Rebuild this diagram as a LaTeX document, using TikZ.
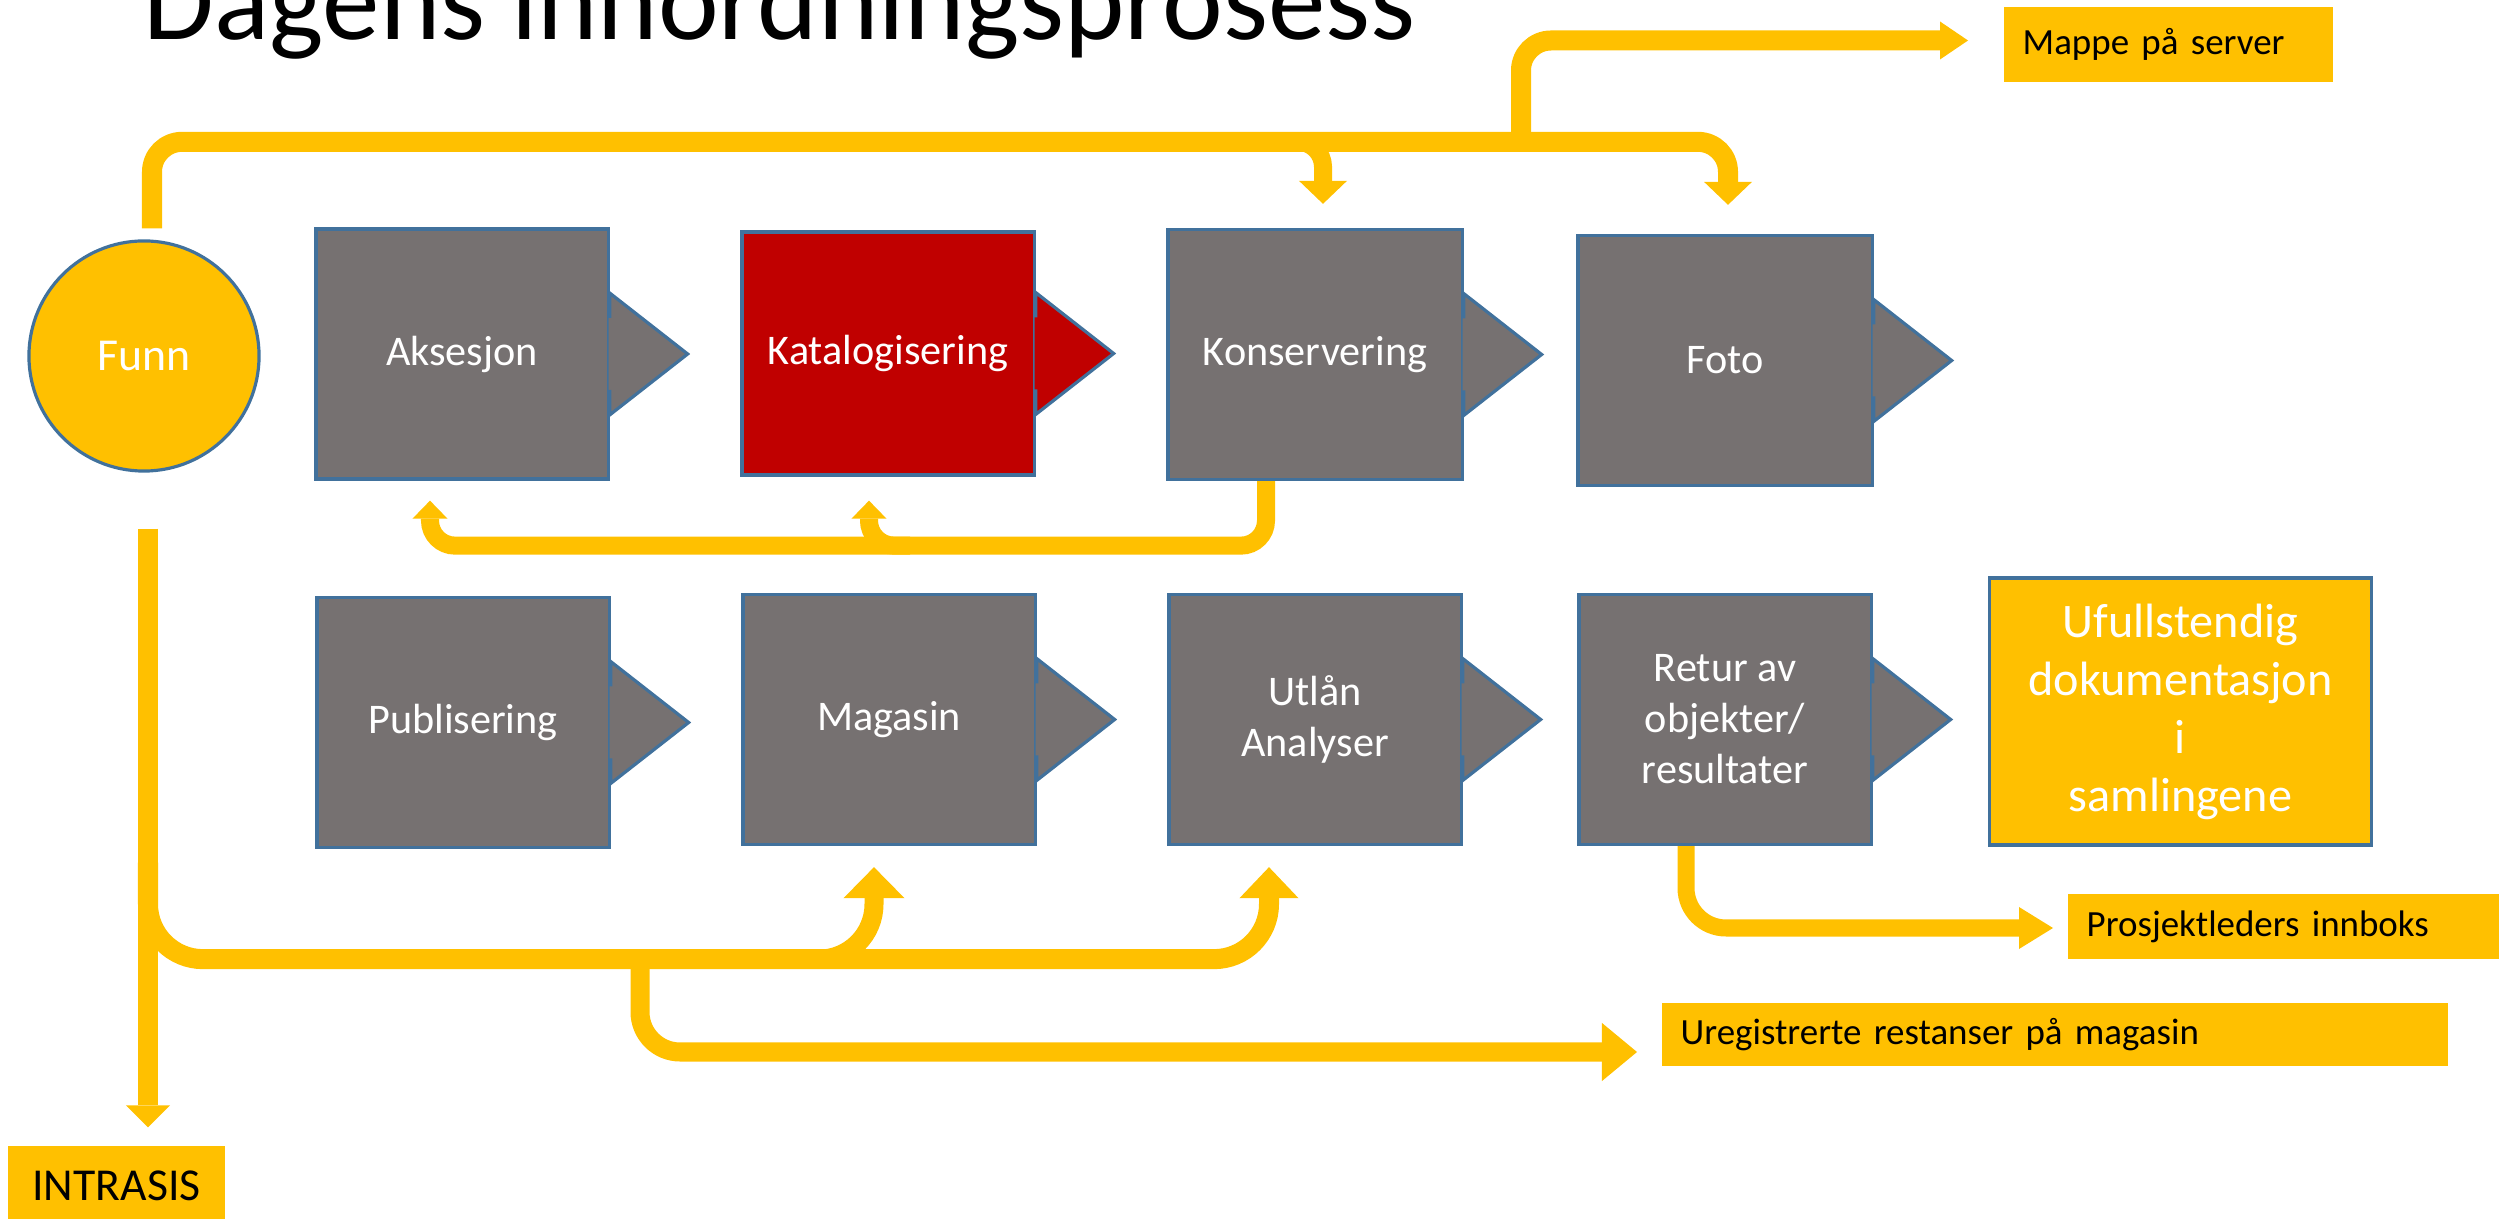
\documentclass[tikz,border=0pt]{standalone}
\usepackage{fontspec}
\setmainfont{Carlito}
\usetikzlibrary{arrows.meta,calc}
\definecolor{gold}{HTML}{FFC000}
\definecolor{slate}{HTML}{767171}
\definecolor{brick}{HTML}{C00000}
\definecolor{rim}{HTML}{41719C}

\begin{document}
\begin{tikzpicture}[x=0.01cm,y=-0.01cm,
  stage/.style={draw=rim,line width=0.9pt,fill=slate,text=white,minimum width=2.92cm,minimum height=2.5cm,inner sep=0pt,align=center,font=\fontsize{12}{14.5}\selectfont},
  pipe/.style={draw=gold,line width=2mm,rounded corners=3mm},
  note/.style={fill=gold,text=black,anchor=west,inner xsep=1.9mm,inner ysep=0pt,align=left,font=\fontsize{10.5}{12}\selectfont}]

\useasboundingbox (0,0) rectangle (2499,1219);

\node[anchor=base west,inner sep=0pt,font=\fontsize{32.7}{36}\selectfont](title) at (143,40){Dagens innordningsprosess};

\node[circle,draw=rim,line width=0.9pt,fill=gold,text=white,minimum size=2.3cm,inner sep=0pt,font=\fontsize{13}{15}\selectfont](funn) at (144,356){Funn};

% first row
\node[stage](aks) at (462,354){Aksesjon};
\node[stage,fill=brick,minimum height=2.43cm](kat) at (888,353.5){Katalogisering};
\node[stage,minimum width=2.94cm](kons) at (1315,354.5){Konservering};
\node[stage,minimum width=2.94cm](foto) at (1725,360.5){Foto};

% second row
\node[stage](pub) at (463,722.5){Publisering};
\node[stage](mag) at (889,719.5){Magasin};
\node[stage](utl) at (1315,719.5){Utlån\\Analyser};
\node[stage](retur) at (1725,719.5){Retur av\\objekter/\\resultater};

\foreach \b/\c in {aks/slate,kat/brick,kons/slate,foto/slate,pub/slate,mag/slate,utl/slate,retur/slate}{
  \fill[\c]($(\b.east)+(-1,-61)$)--($(\b.east)+(78,0)$)--($(\b.east)+(-1,61)$)--cycle;
  \draw[rim,line width=0.9pt]($(\b.east)+(0,-36)$)--($(\b.east)+(0,-61)$)--($(\b.east)+(78,0)$)--($(\b.east)+(0,61)$)--($(\b.east)+(0,36)$);
}

\node[draw=rim,line width=0.9pt,fill=gold,text=white,minimum width=3.81cm,minimum height=2.67cm,align=center,font=\fontsize{13.7}{16.5}\selectfont](ufull) at (2180.5,711.5){Ufullstendig\\dokumentasjon\\i\\samlingene};

\node[note,text width=2.91cm,minimum height=0.75cm](mappe) at (2003,44.5){Mappe på server};
\node[note,text width=4.2cm,minimum height=0.65cm](prosj) at (2067,926.5){Prosjektleders innboks};
\node[note,text width=7.48cm,minimum height=0.63cm](ureg) at (1661,1034.5){Uregistrerte restanser på magasin};
\node[fill=gold,minimum width=2.17cm,minimum height=0.8cm,font=\fontsize{13}{15}\selectfont](intra) at (116.5,1186){INTRASIS};

% top arrows
\draw[pipe,-{Triangle[width=4.8mm,length=2.3mm,line width=0pt]}]($(funn.north)+(8,-11)$)|-($(foto.north)+(3,-92)$)--($(foto.north)+(3,-29)$);
\draw[pipe,line width=1.8mm,rounded corners=2.5mm,-{Triangle[width=4.8mm,length=2.3mm,line width=0pt]}]($(kons.north)+(-45,-86)$)-|($(kons.north)+(8,-24)$);
\coordinate (split) at ($(foto.north)+(-204,-92)$);
\draw[pipe,-{Triangle[width=3.8mm,length=2.8mm,line width=0pt]}](split)|-($(mappe.west)+(-35,-4)$);

% back to the start
\coordinate (back) at ($(kons.south)+(-49,0)$);
\draw[pipe,line width=1.8mm,rounded corners=2.5mm,-{Triangle[width=3.5mm,length=1.8mm,line width=0pt]}](back)|-($(aks.south)+(-32,65)$)--($(aks.south)+(-32,20)$);
\draw[pipe,line width=1.8mm,rounded corners=2.5mm,-{Triangle[width=3.5mm,length=1.8mm,line width=0pt]}]($(kat.south)+(22,69)$)-|($(kat.south)+(-19,24)$);

% bottom arrows
\draw[pipe,-{Triangle[width=4.4mm,length=2.2mm,line width=0pt]}]($(funn.south)+(4,56)$)--($(intra.north)+(31.5,-18)$);
\coordinate (low) at ($(funn.south)+(4,390)$);
\draw[pipe,rounded corners=5.5mm,-{Triangle[width=5.9mm,length=3.1mm,line width=0pt]}](low)|-($(utl.south)+(-46,113)$)--($(utl.south)+(-46,21)$);
\draw[pipe,line width=1.9mm,rounded corners=5.5mm,-{Triangle[width=6.1mm,length=3.1mm,line width=0pt]}]($(mag.south)+(-89,113)$)-|($(mag.south)+(-15,21)$);
\draw[pipe,line width=1.9mm,rounded corners=4mm,-{Triangle[width=5.8mm,length=3.5mm,line width=0pt]}]($(pub.south)+(177,110)$)|-($(ureg.west)+(-24,17.5)$);
\draw[pipe,line width=1.7mm,rounded corners=4mm,-{Triangle[width=4.2mm,length=3.4mm,line width=0pt]}]($(retur.south)+(-39,0)$)|-($(prosj.west)+(-14,1.5)$);

\end{tikzpicture}
\end{document}
